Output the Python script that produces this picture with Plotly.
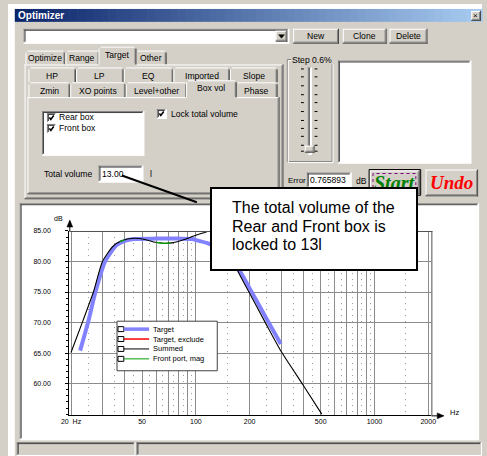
import math
import plotly.graph_objects as go

W, H = 487, 456

# ---------------- data ----------------
target_freq = [22.5, 25.0, 27.4, 31.0, 36.0, 40.0, 45.0, 60.0, 80.0, 96.0, 100.0, 119.0,
               140.0, 160.0, 174.0, 200.0, 250.0, 299.0]
target_db = [65.4, 70.2, 75.0, 80.0, 82.7, 83.4, 83.7, 83.75, 83.75, 83.7, 83.5, 82.9,
             81.6, 80.0, 78.7, 75.6, 70.5, 66.5]

summed_freq = [20.0, 23.4, 26.7, 30.0, 34.4, 38.4, 45.0, 52.0, 58.0, 66.0, 75.0, 82.0,
               88.0, 100.0, 113.0, 124.0, 135.0, 150.0, 170.0, 200.0, 250.0, 300.0, 400.0, 507.0]
summed_db = [65.1, 70.4, 75.0, 80.0, 82.5, 83.4, 83.8, 83.6, 83.2, 83.0, 83.1, 83.4,
             83.7, 84.3, 84.8, 85.2, 85.1, 82.6, 78.7, 74.8, 69.5, 65.3, 59.7, 55.0]

front_port_freq = [37.5, 38.4, 40.0, None, 60.0, 66.0, 72.0]
front_port_db = [83.25, 83.38, 83.55, None, 83.12, 82.97, 83.02]

target_excl_freq = []
target_excl_db = []

x_major = [20, 30, 40, 50, 60, 70, 80, 90, 100, 200, 300, 400, 500, 600, 700, 800, 900, 1000, 2000]
x_labels = ["20\u00a0\u00a0Hz", "", "", "50", "", "", "", "", "100", "200", "", "", "500",
            "", "", "", "", "1000", "2000"]
x_minor = [25, 35, 45, 55, 65, 75, 85, 95, 150, 250, 350, 450, 550, 650, 750, 850, 950, 1500]
y_major = [60, 65, 70, 75, 80, 85]
y_labels = ["60.00", "65.00", "70.00", "75.00", "80.00", "85.00"]

legend_names = ["Target", "Target, exclude", "Summed", "Front port, mag"]
legend_colors = ["#8282FF", "#FF0000", "#000000", "#00A000"]
legend_widths = [3.5, 1.5, 1, 1]

callout_lines = ["The total volume of the", "Rear and Front box is", "locked to 13l"]

# ---------------- helpers ----------------
UI = "Liberation Sans, Arial, sans-serif"
UIS = 8.6
ARIAL = "Liberation Sans, Arial, sans-serif"
SERIF = "Liberation Serif, Times New Roman, serif"
FACE = "#D4D0C8"
DARK = "#808080"
DDARK = "#404040"

shapes, annotations = [], []


def px(x):
    return x / W


def py(y):
    return 1 - y / H


def line(x0, y0, x1, y1, color, lw=1, layer="below", dash=None):
    ln = dict(color=color, width=lw)
    if dash:
        ln["dash"] = dash
    shapes.append(dict(type="line", xref="paper", yref="paper", x0=px(x0), y0=py(y0),
                       x1=px(x1), y1=py(y1), line=ln, layer=layer))


def hl(x0, x1, y, color, lw=1, layer="below"):
    line(x0, y + 0.5, x1, y + 0.5, color, lw, layer)


def vl(x, y0, y1, color, lw=1, layer="below"):
    line(x + 0.5, y0, x + 0.5, y1, color, lw, layer)


def rect(x0, y0, x1, y1, fill, border=None, lw=1, layer="below", dash=None):
    ln = dict(color=border if border else "rgba(0,0,0,0)", width=lw if border else 0)
    if dash:
        ln["dash"] = dash
    shapes.append(dict(type="rect", xref="paper", yref="paper", x0=px(x0), x1=px(x1),
                       y0=py(y1), y1=py(y0), fillcolor=fill, line=ln, layer=layer))


def path(d_pts, fill=None, color="black", lw=1, closed=True, layer="below"):
    s = "M " + " L ".join(f"{px(x):.5f},{py(y):.5f}" for x, y in d_pts)
    if closed:
        s += " Z"
    shapes.append(dict(type="path", xref="paper", yref="paper", path=s,
                       fillcolor=fill if fill else "rgba(0,0,0,0)",
                       line=dict(color=color, width=lw), layer=layer))


def bevel(x0, y0, x1, y1, raised=True, fill=None, layer="below"):
    if fill:
        rect(x0, y0, x1 + 1, y1 + 1, fill, layer=layer)
    if raised:
        hl(x0, x1, y0, "#FFFFFF", layer=layer)
        vl(x0, y0, y1, "#FFFFFF", layer=layer)
        hl(x0, x1 + 1, y1, DDARK, layer=layer)
        vl(x1, y0, y1 + 1, DDARK, layer=layer)
        hl(x0 + 1, x1, y1 - 1, DARK, layer=layer)
        vl(x1 - 1, y0 + 1, y1, DARK, layer=layer)
    else:
        hl(x0, x1, y0, DARK, layer=layer)
        vl(x0, y0, y1, DARK, layer=layer)
        hl(x0 + 1, x1 - 1, y0 + 1, DDARK, layer=layer)
        vl(x0 + 1, y0 + 1, y1 - 1, DDARK, layer=layer)
        hl(x0, x1 + 1, y1, "#FFFFFF", layer=layer)
        vl(x1, y0, y1 + 1, "#FFFFFF", layer=layer)


def txt(x, y, s, size=UIS, color="black", family=UI, xa="left", ya="middle"):
    annotations.append(dict(xref="paper", yref="paper", x=px(x), y=py(y), text=s,
                            showarrow=False, font=dict(size=size, color=color, family=family),
                            xanchor=xa, yanchor=ya, borderpad=0))


def tab(x0, x1, ytop, ybot, label, ty):
    rect(x0, ytop, x1, ybot + 1, FACE)
    vl(x0, ytop + 2, ybot, "#FFFFFF")
    hl(x0 + 2, x1 - 2, ytop, "#FFFFFF")
    vl(x1 - 2, ytop + 2, ybot, DARK)
    vl(x1 - 1, ytop + 2, ybot, DDARK)
    txt((x0 + x1) / 2, ty, label, xa="center")


def checkbox(x, y):
    bevel(x, y, x + 9, y + 9, raised=False, fill="#FFFFFF")
    path([(x + 2.5, y + 4.5), (x + 4, y + 6.5), (x + 7, y + 2.5)], color="black", lw=1.6,
         closed=False)


# ---------------- window chrome ----------------
rect(0, 0, 7, H, "#FFFFFF")
rect(0, 0, W, 5, "#FFFFFF")
c0, c1 = (10, 36, 106), (166, 202, 240)
n = 60
for i in range(n):
    t = i / (n - 1)
    col = "rgb(%d,%d,%d)" % tuple(round(a + (b - a) * t) for a, b in zip(c0, c1))
    xa = 7 + (W - 7) * i / n
    xb = 7 + (W - 7) * (i + 1) / n + 0.6
    rect(xa, 5, xb, 18, col)
txt(9, 11.5, "<b>Optimizer</b>", 10, "#FFFFFF", ARIAL)
bevel(476, 7, 485, 16, raised=True, fill=FACE)
txt(480.8, 11.5, "×", 8, "#000000", ARIAL, xa="center")

# combo + buttons
bevel(16, 25, 288, 39, raised=False, fill="#FFFFFF")
bevel(275, 27, 286, 37, raised=True, fill=FACE)
path([(278, 31), (284, 31), (281, 34.5)], fill="black", color="black", lw=0.5)
for (x0, x1, lab) in [(293, 339, "New"), (344, 388, "Clone"), (392, 430, "Delete")]:
    bevel(x0, 25, x1, 39, raised=True, fill=FACE)
    txt((x0 + x1) / 2, 32.5, lab, xa="center")

# outer tabs
for (x0, x1, lab) in [(18, 59, "Optimize"), (59, 94, "Range"), (131, 163, "Other")]:
    tab(x0, x1, 47, 61, lab, 54.5)
bevel(17, 61, 282, 196, raised=True)
tab(93, 132, 43, 61, "Target", 51)
rect(94, 60, 130, 63, FACE)

# inner tabs
for (x0, x1, lab) in [(21, 70, "HP"), (70, 119, "LP"), (119, 170, "EQ"),
                      (170, 228, "Imported"), (228, 277, "Slope")]:
    tab(x0, x1, 64, 79, lab, 72.5)
for (x0, x1, lab) in [(21, 64, "Zmin"), (64, 121, "XO points"), (121, 184, "Level+other"),
                      (234, 277, "Phase")]:
    tab(x0, x1, 79, 94, lab, 87.5)
bevel(20, 94, 278, 191, raised=True)
tab(183, 235, 77, 94, "Box vol", 85)
rect(184, 93, 233, 96, FACE)

# box vol page contents
bevel(35, 108, 139, 152, raised=False, fill="#FFFFFF")
checkbox(40, 110)
txt(51, 114.5, "Rear box")
checkbox(40, 121)
txt(51, 125.5, "Front box")
checkbox(153, 106)
txt(166, 110.5, "Lock total volume")
txt(36, 171.5, "Total volume")
bevel(93, 163, 138, 179, raised=False, fill="#FFFFFF")
txt(96, 171.5, "13.00")
txt(145, 171.5, "l")

# step group with slider
rect(287, 56, 333, 159, "rgba(0,0,0,0)", DARK, 1)
rect(288, 57, 334, 160, "rgba(0,0,0,0)", "#FFFFFF", 1)
rect(291, 50, 335, 61, FACE)
txt(312.5, 56, "Step 0.6%", xa="center")
bevel(308, 64, 311, 151, raised=False, fill="#FFFFFF")
for ty in [65, 73, 82, 91, 99, 108, 117, 125, 133, 142, 148]:
    hl(301, 304, ty, "#000000")
    hl(315, 318, ty, "#000000")
bevel(305, 143, 314, 149, raised=True, fill=FACE)

bevel(339, 57, 475, 160, raised=False, fill="#FFFFFF")

# error + buttons
txt(287, 178.5, "Error", 8.0)
bevel(307, 170, 352, 185, raised=False, fill="#FFFFFF")
txt(309, 178, "0.765893")
txt(357, 178.5, "dB")
rect(371, 167, 424, 193, "rgba(0,0,0,0)", "#000000", 1)
bevel(372, 168, 422, 191, raised=True, fill=FACE)
rect(375, 171, 419, 188, "rgba(0,0,0,0)", "#800080", 1, dash="dot")
txt(397, 181, "<b><i>Start</i></b>", 20, "#008000", SERIF, xa="center")
bevel(429, 167, 482, 193, raised=True, fill=FACE)
txt(455.5, 180.5, "<b><i>Undo</i></b>", 19, "#FF0000", SERIF, xa="center")

# chart panel and status bar
bevel(12, 201, 483, 439, raised=False, fill="#FFFFFF")
bevel(9, 442, 130, 455, raised=False)
bevel(132, 442, 486, 455, raised=False)

# ---------------- chart ----------------
x_lo, x_hi = 19.57, 2083.0
y_lo, y_hi = 54.8, 85.0
xd = [63 / W, 435 / W]
yd = [1 - 415 / H, 1 - 229 / H]

fig = go.Figure()
fig.add_trace(go.Scatter(x=target_freq, y=target_db, mode="lines", name=legend_names[0],
                         line=dict(color=legend_colors[0], width=4, shape="spline", smoothing=0.6)))
fig.add_trace(go.Scatter(x=target_excl_freq, y=target_excl_db, mode="lines", name=legend_names[1],
                         line=dict(color=legend_colors[1], width=1.5)))
fig.add_trace(go.Scatter(x=summed_freq, y=summed_db, mode="lines", name=legend_names[2],
                         line=dict(color=legend_colors[2], width=1.1, shape="spline", smoothing=0.6)))
fig.add_trace(go.Scatter(x=front_port_freq, y=front_port_db, mode="lines", name=legend_names[3],
                         line=dict(color=legend_colors[3], width=1.3, shape="spline", smoothing=0.6)))

# plot frame (top/right) and axis arrows
hl(63, 436, 229, "#505050", layer="above")
vl(435, 229, 415, "#505050", layer="above")
vl(63, 219, 229, "#000000", layer="above")
path([(60.5, 225), (63.5, 218), (66.5, 225)], fill="black", color="black", lw=0.5, layer="above")
hl(435, 447, 415, "#000000", layer="above")
path([(441, 412.5), (448, 415.5), (441, 418.5)], fill="black", color="black", lw=0.5, layer="above")
txt(52, 216.5, "dB", 7, xa="center")
txt(459, 412.5, "Hz", 7.5, xa="center")

# chart legend
rect(112, 320, 215, 370, "#FFFFFF", "#404040", 1, layer="above")
for i, (nm, col, w) in enumerate(zip(legend_names, legend_colors, legend_widths)):
    yy = 328 + i * 10
    rect(113, yy - 2.5, 119, yy + 2.5, "#FFFFFF", "#000000", 1, layer="above")
    line(119, yy, 145, yy, col, w, layer="above")
    txt(148, yy, nm, 7.5)

# callout pointer, box and text
line(117, 173, 194, 200, "#000000", 2, layer="above")
annotations.append(dict(xref="paper", yref="paper", x=px(314), y=py(226.5), text="\u00a0",
                        showarrow=False, bgcolor="#FFFFFF", bordercolor="#000000", borderwidth=2,
                        width=204, height=80, borderpad=0, xanchor="center", yanchor="middle"))
for i, s in enumerate(callout_lines):
    txt(229, 205 + i * 19, s, 16, "#000000", ARIAL)

fig.update_layout(
    width=W, height=H, autosize=False,
    margin=dict(l=0, r=0, t=0, b=0),
    paper_bgcolor=FACE, plot_bgcolor="#FFFFFF",
    showlegend=False,
    xaxis=dict(type="log", range=[math.log10(x_lo), math.log10(x_hi)], domain=xd,
               tickvals=x_major, ticktext=x_labels, showgrid=True, gridcolor="#8c8c8c",
               gridwidth=1, showline=True, linecolor="#000000", linewidth=1, ticks="",
               zeroline=False, tickfont=dict(size=7, family=UI, color="#000000"),
               ticklabelstandoff=-1,
               minor=dict(tickvals=x_minor, showgrid=True, gridcolor="#9a9a9a",
                          griddash="1px,5px", gridwidth=1, ticks="")),
    yaxis=dict(range=[y_lo, y_hi], domain=yd, tickvals=y_major, ticktext=y_labels,
               showgrid=True, gridcolor="#8c8c8c", gridwidth=1, showline=True,
               linecolor="#000000", linewidth=1, ticks="outside", ticklen=3,
               tickcolor="#000000", zeroline=False, ticklabelstandoff=13,
               tickfont=dict(size=7, family=UI, color="#000000"),
               minor=dict(dtick=1, ticks="outside", ticklen=2, tickcolor="#000000",
                          showgrid=False)),
    shapes=shapes,
    annotations=annotations,
)

fig.write_html("out.html", config={"displayModeBar": False},
               post_script="document.body.style.margin='0';document.body.style.overflow='hidden';")
